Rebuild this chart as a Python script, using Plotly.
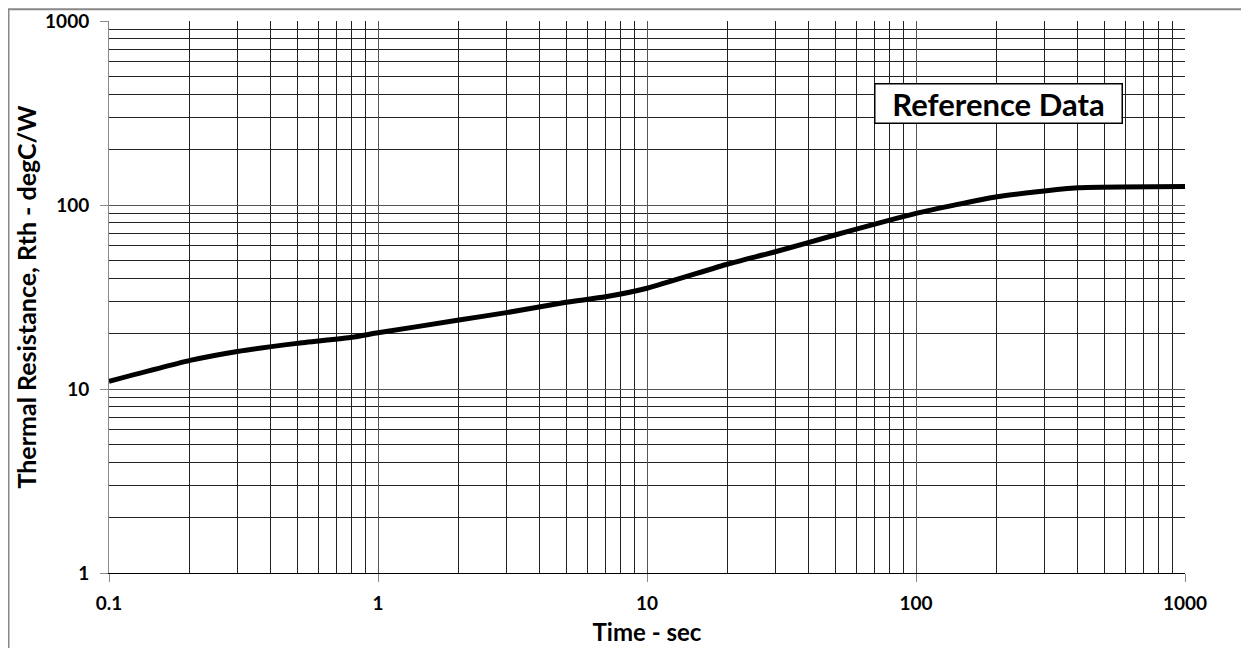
import plotly.graph_objects as go

# Data
time_sec = [0.1, 0.2, 0.3, 0.5, 0.8, 1, 2, 3, 5, 7, 10, 20, 30, 50, 100, 200, 400, 1000]
rth_degc_w = [11.0, 14.3, 16.0, 17.7, 19.1, 20.2, 23.7, 26.0, 29.6, 31.7, 35.3, 47.8, 55.7, 68.7, 90.0, 111.0, 124.0, 126.0]

x_ticks = [0.1, 1, 10, 100, 1000]
x_ticktext = ["0.1", "1", "10", "100", "1000"]
y_ticks = [1, 10, 100, 1000]
y_ticktext = ["1", "10", "100", "1000"]

FONT = "Lato, 'Liberation Sans', sans-serif"

fig = go.Figure()
fig.add_trace(go.Scatter(
    x=time_sec, y=rth_degc_w, mode="lines",
    line=dict(color="black", width=5, shape="spline", smoothing=0.5),
    showlegend=False, hoverinfo="x+y",
))

axis_common = dict(
    type="log",
    automargin=False,
    showgrid=True, gridcolor="#555555", gridwidth=1,
    minor=dict(dtick="D1", showgrid=True, gridcolor="#222222", gridwidth=1, ticks=""),
    ticks="outside", ticklen=8, tickcolor="#888888", tickwidth=1,
    tickfont=dict(family=FONT, size=19, color="black", weight="bold"),
    zeroline=False,
)

fig.update_xaxes(
    **axis_common,
    range=[-1, 3],
    tickvals=x_ticks, ticktext=x_ticktext,
    ticklabelstandoff=5,
    showline=True, linecolor="black", linewidth=1,
    title=dict(text="<b>Time - sec</b>", font=dict(family=FONT, size=24, color="black"), standoff=11),
)
fig.update_yaxes(
    **axis_common,
    range=[0, 3],
    tickvals=y_ticks, ticktext=y_ticktext,
    ticklabelstandoff=7,
    showline=True, linecolor="#888888", linewidth=1,
    title=dict(text="<b>Thermal Resistance, Rth - degC/W</b>", font=dict(family=FONT, size=25, color="black"), standoff=1),
)

fig.add_annotation(
    xref="paper", yref="paper", x=0.7108, y=0.8873, xanchor="left", yanchor="top",
    text="<b>Reference Data</b>", showarrow=False,
    font=dict(family=FONT, size=31, color="black"),
    align="center", bgcolor="white", bordercolor="black", borderwidth=1.5, borderpad=0,
    width=246, height=38,
)

# outer chart frame
fig.add_shape(type="rect", xref="paper", yref="paper",
              x0=-0.0934, x1=1.08, y0=-0.17, y1=1.0212,
              line=dict(color="#888888", width=2), layer="above")

fig.update_layout(
    width=1249, height=648,
    margin=dict(l=101, r=72, t=13, b=83),
    paper_bgcolor="white", plot_bgcolor="white",
)

fig.write_html("out.html")
